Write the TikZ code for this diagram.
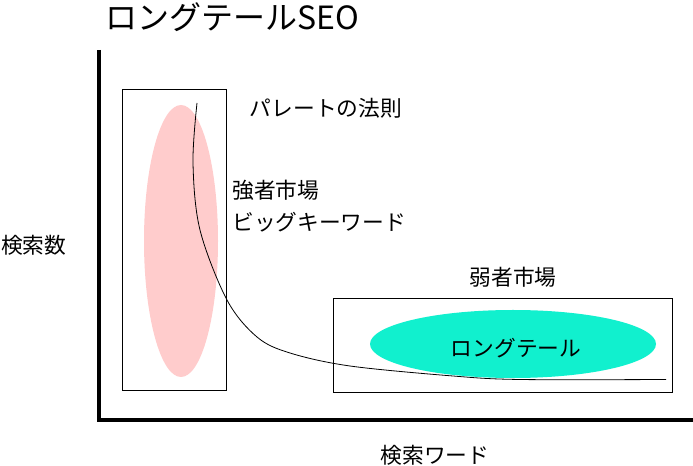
\documentclass[tikz,border=0pt]{standalone}
\usepackage{fontspec}
\setmainfont{Noto Sans CJK JP}
\usetikzlibrary{shapes.geometric}
\definecolor{pinkfill}{HTML}{FFCCCC}
\definecolor{cyanfill}{HTML}{11F0CE}
\tikzset{
  lbl/.style={inner sep=0pt, font=\fontsize{16.3}{18}\selectfont},
  frame/.style={draw=black, line width=0.75pt, inner sep=0pt},
  axis/.style={line width=2.4pt},
}
\begin{document}
\begin{tikzpicture}[x=0.75pt,y=-0.75pt]
\useasboundingbox[fill=white] (0,0) rectangle (693,466);
% title
\node[inner sep=0pt, anchor=west, font=\fontsize{24}{26}\selectfont] (title) at (105,17) {ロングテールSEO};
% axes
\coordinate (origin) at (99,420);
\coordinate (ytop) at (99,50);
\coordinate (xend) at (693,420);
\draw[axis] (ytop) -- (origin) -- (xend);
% left region
\node[ellipse, fill=pinkfill, minimum width=55.5pt, minimum height=204pt, inner sep=0pt] (pink) at (181,241) {};
\node[frame, minimum width=78pt, minimum height=225.75pt] (lbox) at (174,240.5) {};
% right region
\node[frame, minimum width=254.25pt, minimum height=70.5pt] (rbox) at (502.5,346) {};
% curve
\draw[line width=0.6pt] plot[smooth, tension=0.55] coordinates {(197,103) (193,163) (200,230) (227,300) (257,337) (290,353) (350,366) (453,376) (520,379.5) (666,379.5)};
\node[ellipse, fill=cyanfill, minimum width=214.5pt, minimum height=51pt, inner sep=0pt] (cyan) at (513,344) {};
\node[lbl] (lt) at (516,348) {ロングテール};
% labels
\node[lbl] (pareto) at (326,108) {パレートの法則};
\node[lbl, anchor=west] (strong) at (232,190) {強者市場};
\node[lbl, anchor=west] (bigkw) at (232,222) {ビッグキーワード};
\node[lbl, anchor=west] (count) at (1,245) {検索数};
\node[lbl] (weak) at (513,277) {弱者市場};
\node[lbl] (kw) at (435,455) {検索ワード};
\end{tikzpicture}
\end{document}
